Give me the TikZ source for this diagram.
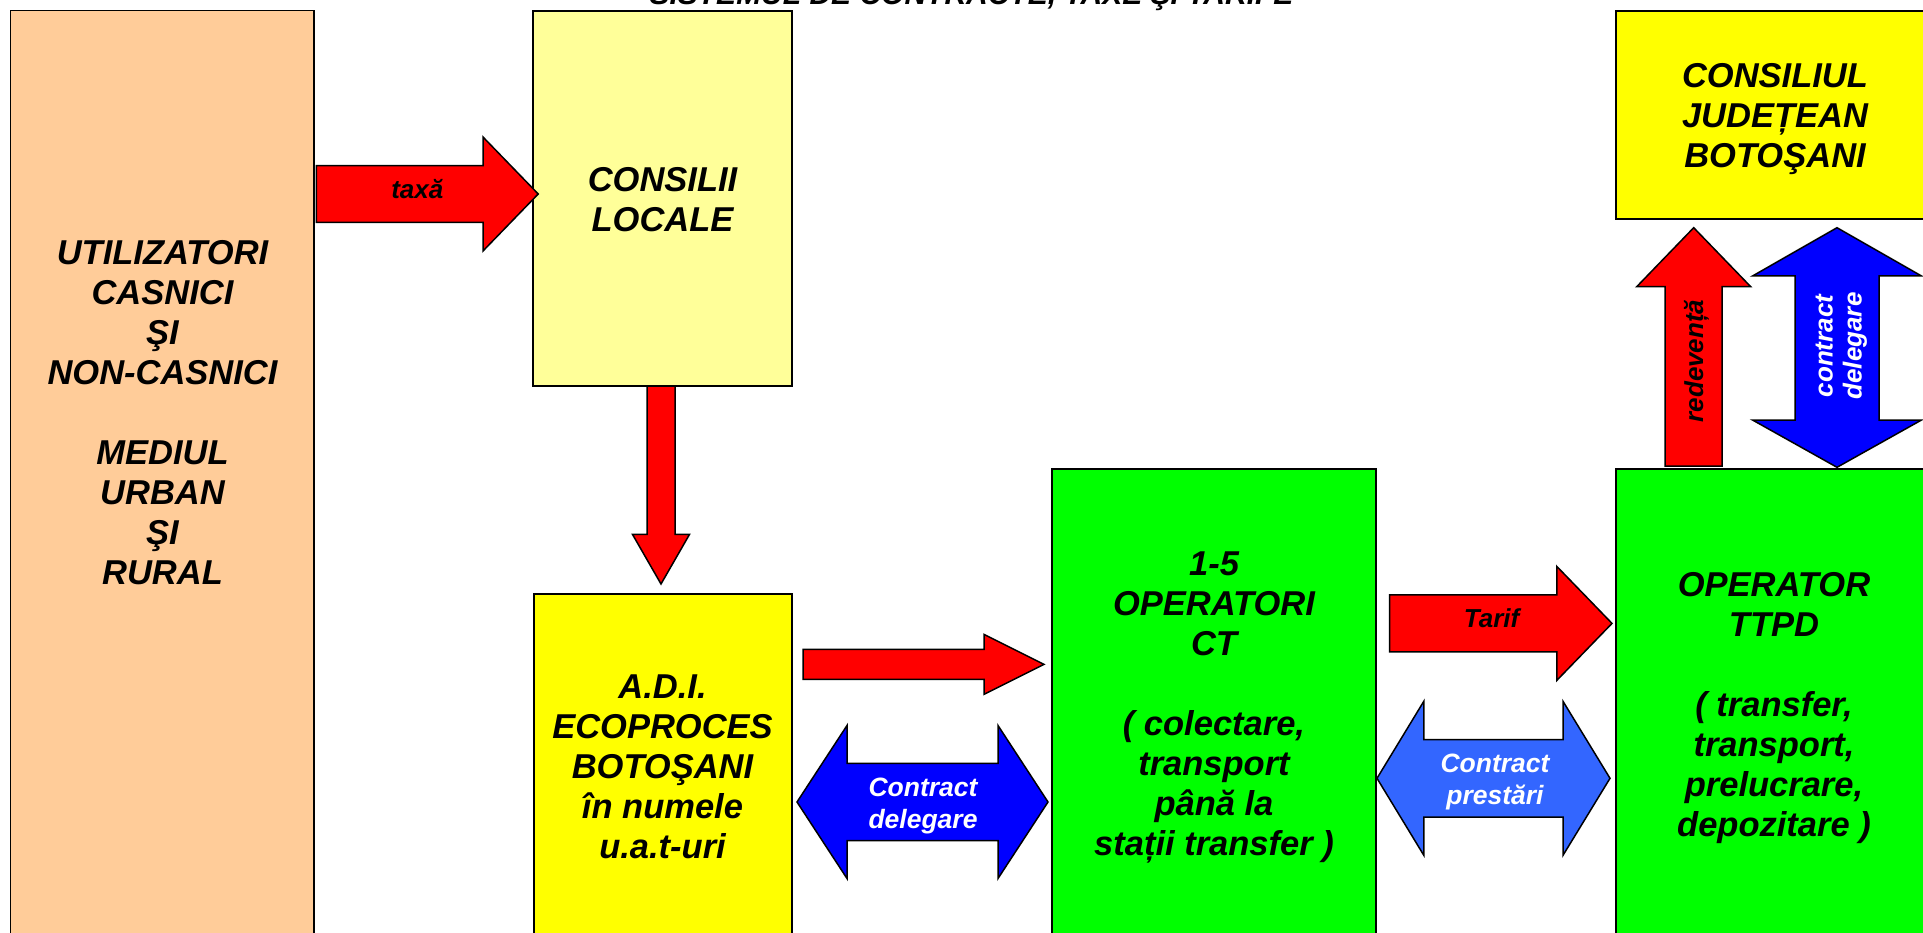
\documentclass[tikz,border=0pt]{standalone}
\usepackage{fontspec}
\setmainfont{Liberation Sans}
\definecolor{peach}{HTML}{FFCC99}
\definecolor{lyellow}{HTML}{FFFF99}
\definecolor{yel}{HTML}{FFFF00}
\definecolor{grn}{HTML}{00FF00}
\definecolor{rd}{HTML}{FF0000}
\definecolor{bl}{HTML}{0000FF}
\definecolor{lbl}{HTML}{3366FF}
% horizontal right arrow: tail x, head base x, tip x, centre y, shaft half, head half, fill
\newcommand\blkR[7]{\filldraw[arr, fill=#7] (#1,#4-#5) -- (#2,#4-#5) -- (#2,#4-#6) -- (#3,#4) -- (#2,#4+#6) -- (#2,#4+#5) -- (#1,#4+#5) -- cycle;}
% vertical single arrow: centre x, tail y, head base y, tip y, shaft half, head half, fill
\newcommand\blkSV[7]{\filldraw[arr, fill=#7] (#1-#5,#2) -- (#1-#5,#3) -- (#1-#6,#3) -- (#1,#4) -- (#1+#6,#3) -- (#1+#5,#3) -- (#1+#5,#2) -- cycle;}
% horizontal double arrow: left tip, left base, right base, right tip, centre y, shaft half, head half, fill
\newcommand\blkDH[8]{\filldraw[arr, fill=#8] (#1,#5) -- (#2,#5-#7) -- (#2,#5-#6) -- (#3,#5-#6) -- (#3,#5-#7) -- (#4,#5) -- (#3,#5+#7) -- (#3,#5+#6) -- (#2,#5+#6) -- (#2,#5+#7) -- cycle;}
% vertical double arrow: centre x, top tip, top base, bottom base, bottom tip, shaft half, head half, fill
\newcommand\blkDV[8]{\filldraw[arr, fill=#8] (#1,#2) -- (#1+#7,#3) -- (#1+#6,#3) -- (#1+#6,#4) -- (#1+#7,#4) -- (#1,#5) -- (#1-#7,#4) -- (#1-#6,#4) -- (#1-#6,#3) -- (#1-#7,#3) -- cycle;}
\tikzset{
  box/.style={draw=black, line width=2pt, outer sep=0pt, inner sep=0pt, anchor=north west},
  bigtxt/.style={align=center, inner sep=0pt, font=\fontsize{34.5}{40}\selectfont\bfseries\itshape},
  lbltxt/.style={inner sep=0pt, font=\fontsize{26}{31}\selectfont\bfseries\itshape},
  wlbltxt/.style={inner sep=0pt, align=center, text=white, font=\fontsize{26.5}{32}\selectfont\bfseries\itshape},
  arr/.style={draw=black, line width=1.5pt, line join=miter},
}
\begin{document}
\begin{tikzpicture}[x=1pt,y=-1pt]
\useasboundingbox (0,0) rectangle (1923,933);
\fill[white] (0,0) rectangle (1923,933);
\clip (0,0) rectangle (1923,933);

% title (cut off at top, as in the reference)
\node[anchor=base, inner sep=0pt, font=\fontsize{30}{34}\selectfont\bfseries\itshape] (title) at (971.5,5) {SISTEMUL DE CONTRACTE, TAXE ŞI TARIFE};

% boxes
\node[box, line width=1.5pt, fill=peach, minimum width=303.3pt, minimum height=950pt] (ut) at (10.7,10.7) {};
\node[box, fill=lyellow, minimum width=259pt, minimum height=375pt] (cl) at (533,11) {};
\node[box, fill=yel, minimum width=258pt, minimum height=360pt] (adi) at (534,594) {};
\node[box, fill=grn, minimum width=324pt, minimum height=490pt] (ct) at (1051.5,469) {};
\node[box, fill=grn, minimum width=330pt, minimum height=490pt] (ttpd) at (1615.5,468.5) {};
\node[box, fill=yel, minimum width=330pt, minimum height=207.7pt] (cj) at (1616,11) {};

% box texts
\node[bigtxt] (ut-t) at (162.5,416.9) {\strut UTILIZATORI\\\strut CASNICI\\\strut ŞI\\\strut NON-CASNICI\\\strut\\\strut MEDIUL\\\strut URBAN\\\strut ŞI\\\strut RURAL};
\node[bigtxt] (cl-t) at (662.5,204) {\strut CONSILII\\\strut LOCALE};
\node[bigtxt] (adi-t) at (662.5,770.4) {\strut A.D.I.\\\strut ECOPROCES\\\strut BOTOŞANI\\\strut în numele\\\strut u.a.t-uri};
\node[bigtxt] (ct-t) at (1214,707.7) {\strut 1-5\\\strut OPERATORI\\\strut CT\\\strut\\\strut ( colectare,\\\strut transport\\\strut până la\\\strut stații transfer )};
\node[bigtxt] (ttpd-t) at (1774,708) {\strut OPERATOR\\\strut TTPD\\\strut\\\strut ( transfer,\\\strut transport,\\\strut prelucrare,\\\strut depozitare )};
\node[bigtxt] (cj-t) at (1775,119.4) {\strut CONSILIUL\\\strut JUDEȚEAN\\\strut BOTOŞANI};

% block arrows
\blkR{316.4}{483}{538.2}{194}{28.3}{57}{rd}
\blkSV{661}{386}{534.4}{584}{14}{28.5}{rd}
\blkR{803}{984}{1044}{664.4}{15}{30}{rd}
\blkDH{797}{847}{998}{1048}{802}{38.7}{76.5}{bl}
\blkR{1389.6}{1556.8}{1612}{623.4}{28.5}{57}{rd}
\blkDH{1377}{1423.8}{1563}{1610}{778.3}{38.7}{77}{lbl}
\blkSV{1693.7}{466}{286.7}{227.7}{28.5}{57}{rd}
\blkDV{1837}{227.7}{276}{420}{467.3}{42}{84.5}{bl}

% arrow labels
\node[lbltxt, anchor=base] (l-taxa) at (417.3,199) {taxă};
\node[lbltxt, anchor=base] (l-tarif) at (1491.6,627) {Tarif};
\node[wlbltxt] (l-cd) at (923,805.6) {\strut Contract\\\strut delegare};
\node[wlbltxt] (l-cp) at (1495,781.6) {\strut Contract\\\strut prestări};
\node[lbltxt, anchor=base, rotate=90] (l-red) at (1703,361) {redevență};
\node[wlbltxt, font=\fontsize{26}{29}\selectfont\bfseries\itshape, rotate=90] (l-cdv) at (1841.4,346) {\strut contract\\\strut delegare};
\end{tikzpicture}
\end{document}
